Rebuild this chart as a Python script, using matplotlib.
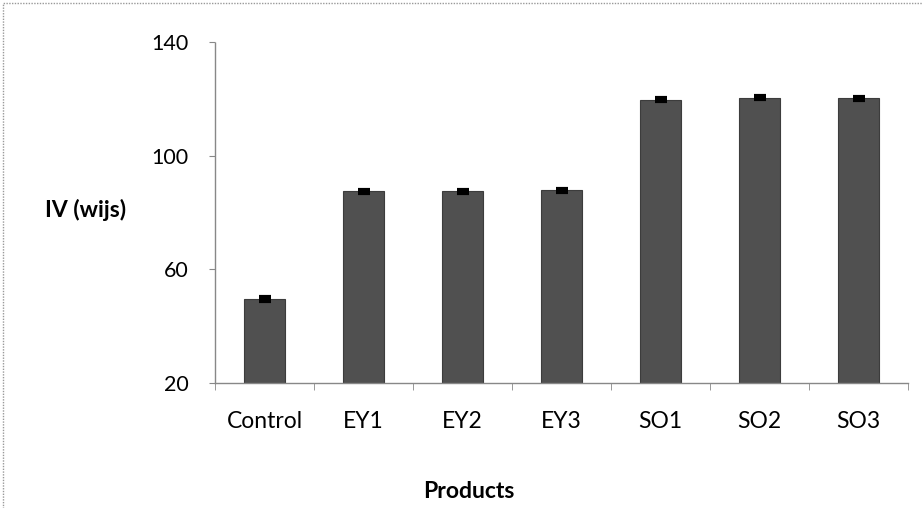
import matplotlib
matplotlib.use("Agg")
import matplotlib.pyplot as plt
import numpy as np
from matplotlib.patches import Rectangle

categories = ["Control", "EY1", "EY2", "EY3", "SO1", "SO2", "SO3"]
values = [49.6, 87.4, 87.4, 87.8, 119.7, 120.4, 120.2]
errors = [0.6, 0.6, 0.6, 0.6, 0.6, 0.6, 0.6]
yticks = [20, 60, 100, 140]

plt.rcParams['font.family'] = ['Lato', 'DejaVu Sans']

fig = plt.figure(figsize=(9.23, 5.08), dpi=100)
ax = fig.add_axes([215/923, 1-383/508, (908-215)/923, (383-42)/508])

x = np.arange(len(categories))
ax.bar(x, np.array(values) - 20, bottom=20, width=0.415, color='#505050',
       edgecolor='#3c3c3c', linewidth=0.8, zorder=2)
ax.errorbar(x, values, yerr=errors, fmt='none', ecolor='black',
            elinewidth=1.2, capsize=4.3, capthick=3, zorder=3)

ax.set_xlim(-0.5, len(categories) - 0.5)
ax.set_ylim(20, 140)
ax.set_yticks(yticks)
ax.set_yticklabels([str(t) for t in yticks], fontsize=15.5)
ax.set_xticks(x)
ax.set_xticklabels(categories, fontsize=16.5)
ax.tick_params(axis='x', length=0, pad=20)
ax.tick_params(axis='y', length=4, color='#888888', pad=15)
ax.set_xticks(np.arange(-0.5, len(categories)), minor=True)
ax.tick_params(axis='x', which='minor', length=5, color='#888888')

for s in ['top', 'right']:
    ax.spines[s].set_visible(False)
for s in ['left', 'bottom']:
    ax.spines[s].set_color('#888888')
    ax.spines[s].set_linestyle((0, (1, 1)))
    ax.spines[s].set_linewidth(1.0)

fig.text(86/923, 1-210/508, "IV (wijs)", fontsize=16.5, fontweight='bold',
         ha='center', va='center')
fig.text(469/923, 1-492/508, "Products", fontsize=16.5, fontweight='bold',
         ha='center', va='center')

fig.patches.append(Rectangle((3/923, -0.01), 1.0, 1-3/508 + 0.01, transform=fig.transFigure,
                             fill=False, edgecolor='#999999', linewidth=1.0,
                             linestyle=(0, (1, 1))))

fig.savefig("out.png", dpi=100, facecolor='white')
